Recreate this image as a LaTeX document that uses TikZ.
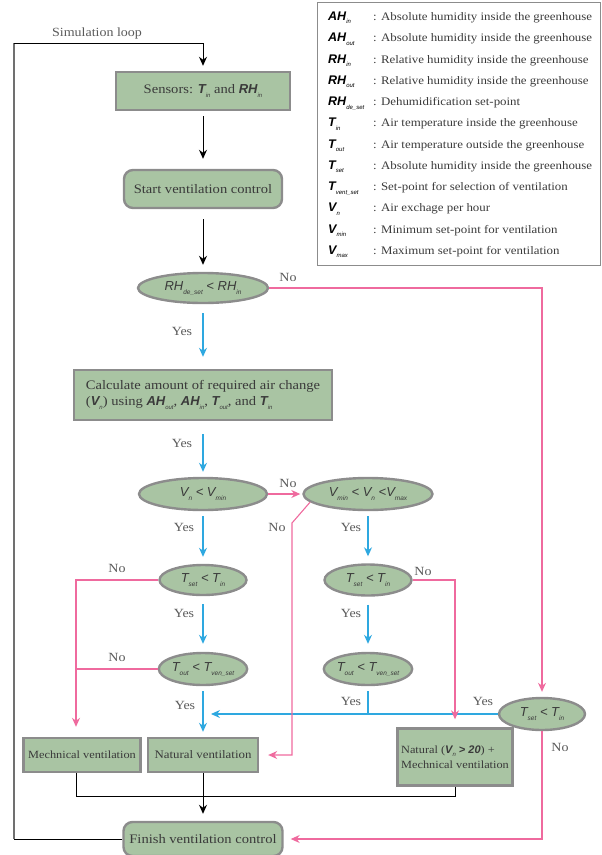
\documentclass[tikz,border=0pt]{standalone}
\usepackage{fontspec}
\setmainfont{Liberation Serif}[FakeStretch=1.12]
\setsansfont{Liberation Sans}
\usepackage{xcolor}
\definecolor{Sage}{HTML}{A9C4A3}
\definecolor{Frame}{HTML}{8C8C8C}
\definecolor{Ink}{HTML}{3A3A3A}
\definecolor{Muted}{HTML}{5A5A5A}
\definecolor{Sky}{HTML}{2EA8E0}
\definecolor{Rose}{HTML}{EF6A9E}
\usepackage{tikz}
\usetikzlibrary{arrows.meta,positioning,shapes.geometric,calc}
\newcommand{\qv}[2]{{\sffamily\itshape #1}\raisebox{-0.6ex}{\fontsize{6.5}{6.5}\selectfont\sffamily\itshape #2}}
\newcommand{\qb}[2]{{\sffamily\bfseries\itshape #1}\raisebox{-0.6ex}{\fontsize{6}{6}\selectfont\sffamily\mdseries\itshape #2}}
\tikzset{
  stagebox/.style={draw=Frame,line width=2.4pt,fill=Sage,text=Ink,inner sep=0pt,
    align=center,font=\fontsize{13}{16}\selectfont},
  endbox/.style={stagebox,rounded corners=9pt},
  test/.style={ellipse,draw=Frame,line width=2.4pt,fill=Sage,text=Ink,inner sep=0pt,
    font=\fontsize{13}{15}\selectfont\sffamily\itshape},
  flow/.style={-{Stealth[length=9pt,width=8pt]},line width=0.9pt,draw=black},
  wire/.style={line width=0.9pt,draw=black},
  rail/.style={line width=2pt,draw=Frame!80!black},
  yesflow/.style={-{Stealth[length=9pt,width=8pt]},line width=1.1pt,draw=Sky},
  yesrun/.style={line width=1.1pt,draw=Sky},
  noflow/.style={-{Stealth[length=9pt,width=8pt]},line width=1.1pt,draw=Rose},
  norun/.style={line width=1.1pt,draw=Rose},
  note/.style={font=\fontsize{12.5}{14}\selectfont,text=Muted},
  keysym/.style={anchor=base west,inner sep=0pt,font=\fontsize{12.5}{14}\selectfont},
  keydesc/.style={anchor=base west,inner sep=0pt,text=Ink,font=\fontsize{11.5}{14}\selectfont}
}
\begin{document}
\begin{tikzpicture}[x=1pt,y=-1pt]
  \useasboundingbox (0,0) rectangle (602,855);
  \draw[draw=Frame,line width=0.9pt] (317,2) rectangle (600,265);
  \node[keysym] (kAHin) at (328,20.5) {\qb{AH}{in}};
  \node[keydesc] (dAHin) at (373,20.5) {: Absolute humidity inside the greenhouse};
  \node[keysym] (kAHout) at (328,41.8) {\qb{AH}{out}};
  \node[keydesc] (dAHout) at (373,41.8) {: Absolute humidity inside the greenhouse};
  \node[keysym] (kRHin) at (328,63) {\qb{RH}{in}};
  \node[keydesc] (dRHin) at (373,63) {: Relative humidity inside the greenhouse};
  \node[keysym] (kRHout) at (328,84.3) {\qb{RH}{out}};
  \node[keydesc] (dRHout) at (373,84.3) {: Relative humidity inside the greenhouse};
  \node[keysym] (kRHde) at (328,105.6) {\qb{RH}{de\_set}};
  \node[keydesc] (dRHde) at (373,105.6) {: Dehumidification set-point};
  \node[keysym] (kTin) at (328,126.9) {\qb{T}{in}};
  \node[keydesc] (dTin) at (373,126.9) {: Air temperature inside the greenhouse};
  \node[keysym] (kTout) at (328,148.1) {\qb{T}{out}};
  \node[keydesc] (dTout) at (373,148.1) {: Air temperature outside the greenhouse};
  \node[keysym] (kTset) at (328,169.4) {\qb{T}{set}};
  \node[keydesc] (dTset) at (373,169.4) {: Absolute humidity inside the greenhouse};
  \node[keysym] (kTvent) at (328,190.7) {\qb{T}{vent\_set}};
  \node[keydesc] (dTvent) at (373,190.7) {: Set-point for selection of ventilation};
  \node[keysym] (kVn) at (328,211.9) {\qb{V}{n}};
  \node[keydesc] (dVn) at (373,211.9) {: Air exchage per hour};
  \node[keysym] (kVmin) at (328,233.2) {\qb{V}{min}};
  \node[keydesc] (dVmin) at (373,233.2) {: Minimum set-point for ventilation};
  \node[keysym] (kVmax) at (328,254.5) {\qb{V}{max}};
  \node[keydesc] (dVmax) at (373,254.5) {: Maximum set-point for ventilation};

  \node[note] (looptag) at (97,33) {Simulation loop};
  \node[stagebox,minimum width=174pt,minimum height=38pt] (sensors) at (203,91) {Sensors: \qb{T}{in} and \qb{RH}{in}};
  \node[endbox,minimum width=158pt,minimum height=38pt] (start) at (203,189) {Start ventilation control};
  \node[test,minimum width=130pt,minimum height=30pt] (rh) at (203,288) {\qv{RH}{de\_set} < \qv{RH}{in}};
  \node[stagebox,minimum width=258pt,minimum height=50pt,align=left] (calc) at (203,395)
    {Calculate amount of required air change\\(\qb{V}{n}) using \qb{AH}{out}, \qb{AH}{in}, \qb{T}{out}, and \qb{T}{in}};
  \node[test,minimum width=128pt,minimum height=32pt] (vn) at (203,494) {\qv{V}{n} < \qv{V}{min}};
  \node[test,minimum width=129pt,minimum height=32pt] (vmid) at (368,494) {\qv{V}{min} < \qv{V}{n} <\qv{V}{max}};
  \node[test,minimum width=87pt,minimum height=30pt] (tsetL) at (203,580) {\qv{T}{set} < \qv{T}{in}};
  \node[test,minimum width=87pt,minimum height=32pt] (toutL) at (203,669) {\qv{T}{out} < \qv{T}{ven\_set}};
  \node[test,minimum width=87pt,minimum height=31pt] (tsetM) at (368,580) {\qv{T}{set} < \qv{T}{in}};
  \node[test,minimum width=87pt,minimum height=32pt] (toutM) at (368,669) {\qv{T}{out} < \qv{T}{ven\_set}};
  \node[test,minimum width=86pt,minimum height=32pt] (tsetR) at (542,714) {\qv{T}{set} < \qv{T}{in}};
  \node[stagebox,minimum width=117pt,minimum height=34pt,font=\fontsize{11}{13}\selectfont] (mech) at (82,755) {Mechnical ventilation};
  \node[stagebox,minimum width=110pt,minimum height=34pt,font=\fontsize{11.5}{13}\selectfont] (natural) at (203,755) {Natural ventilation};
  \node[stagebox,minimum width=115pt,minimum height=57pt,align=left,font=\fontsize{11}{15}\selectfont] (natmech) at (455,757)
    {Natural (\qb{V}{n} \textsf{\bfseries\itshape > 20}) +\\Mechnical ventilation};
  \node[endbox,minimum width=159pt,minimum height=34pt] (finish) at (203,839) {Finish ventilation control};

  \coordinate (mechIn) at ([xshift=-6pt]mech.north);
  \coordinate (mechOut) at ([xshift=-6pt]mech.south);
  \coordinate (joinY) at (0,796);
  \coordinate (bendA) at (292,523);
  \coordinate (yesJoin) at (211,714);
  \coordinate (loopTop) at (14,43);

  \draw[flow,shorten <=5pt,shorten >=10pt] (sensors) -- (start);
  \draw[flow,shorten <=10pt,shorten >=7pt] (start) -- (rh);
  \draw[yesflow,shorten <=9pt,shorten >=12pt] (rh) -- (calc);
  \draw[yesflow,shorten <=13pt,shorten >=5pt] (calc) -- (vn);
  \draw[yesflow,shorten <=5pt,shorten >=7pt] (vn) -- (tsetL);
  \draw[yesflow,shorten <=8pt,shorten >=8pt] (tsetL) -- (toutL);
  \draw[yesflow,shorten <=5pt,shorten >=5pt] (toutL) -- (natural);
  \draw[yesflow,shorten <=5pt,shorten >=7pt] (vmid) -- (tsetM);
  \draw[yesflow,shorten <=8pt,shorten >=8pt] (tsetM) -- (toutM);
  \draw[yesrun,shorten <=5pt] (toutM) -- (toutM |- tsetR);
  \draw[yesflow] (tsetR) -- (yesJoin);

  \draw[noflow,shorten >=5pt] (rh) -| (tsetR);
  \draw[noflow,shorten >=2pt] (vn) -- (vmid);
  \draw[noflow,shorten >=9pt] (vmid.188) -- (bendA) |- (natural);
  \draw[noflow,shorten >=10pt] (tsetL) -| (mechIn);
  \draw[norun] (toutL) -- (toutL -| mechIn);
  \draw[noflow,shorten >=8pt] (tsetM) -| (natmech);
  \draw[noflow,shorten >=7pt] (tsetR) |- (finish);

  \draw[wire] (mechOut) |- (joinY -| natmech) -- (natmech);
  \draw[flow,shorten >=7pt] (natural) -- (finish);
  \draw[wire] (finish) -- (finish -| loopTop);
  \draw[rail] (finish -| loopTop) -- (loopTop);
  \draw[flow,shorten >=5pt] (loopTop) -| (sensors);

  \node[note] (noRH) at (288,277) {No};
  \node[note] (yesRH) at (182,331) {Yes};
  \node[note] (yesCalc) at (182,443) {Yes};
  \node[note] (noVn) at (288,483) {No};
  \node[note] (noVmid) at (277,527) {No};
  \node[note] (yesVn) at (184,527) {Yes};
  \node[note] (yesVmid) at (351,527) {Yes};
  \node[note] (noTsetL) at (117,568) {No};
  \node[note] (noTsetM) at (423,571) {No};
  \node[note] (yesTsetL) at (184,613) {Yes};
  \node[note] (yesTsetM) at (351,613) {Yes};
  \node[note] (noToutL) at (117,657) {No};
  \node[note] (yesToutL) at (185,705) {Yes};
  \node[note] (yesToutM) at (351,701) {Yes};
  \node[note] (yesTsetR) at (483,701) {Yes};
  \node[note] (noTsetR) at (560,747) {No};
\end{tikzpicture}
\end{document}
